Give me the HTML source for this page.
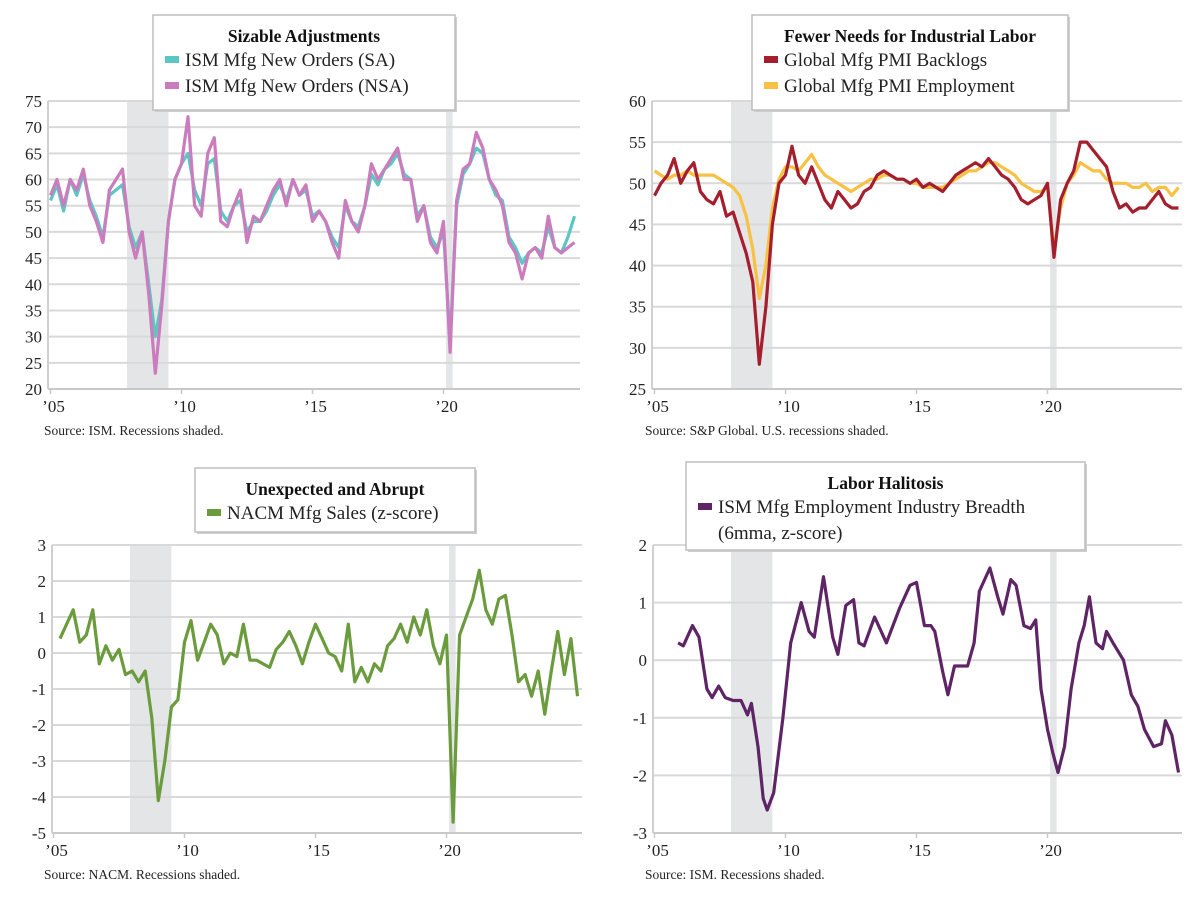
<!DOCTYPE html>
<html><head><meta charset="utf-8">
<style>
body{margin:0;background:#fff;}
svg{display:block;font-family:"Liberation Serif",serif;}
</style></head>
<body>
<svg id="chart" width="1200" height="907" viewBox="0 0 1200 907"></svg>
<script>
// ---------- DATA ----------
const yearsStart1 = 2005.0;
const smaSA = [56,59,54,60,57,61,56,53,49,57,58,59,51,47,50,40,30,37,52,60,63,65,58,55,63,64,54,52,55,56,50,52,52,54,57,59,56,60,57,58,53,54,52,49,47,55,52,51,55,61,59,62,63,65,61,60,53,55,49,47,50,29,55,61,63,66,65,60,57,56,49,47,44,46,47,46,51,47,46,49,53];
const smaNSA = [57,60,55,60,58,62,55,52,48,58,60,62,50,45,50,38,23,36,52,60,63,72,55,53,65,68,52,51,55,58,48,53,52,55,58,60,55,60,57,59,52,54,52,48,45,56,52,50,55,63,60,62,64,66,60,60,52,55,48,46,52,27,56,62,63,69,66,60,58,55,48,46,41,46,47,45,53,47,46,47,48];
const pmiBacklogs = [48.5,50,51,53,50,51.5,52.5,49,48,47.5,49,46,46.5,44,41.5,38,28,35,45,50,51,54.5,51,50,52,50,48,47,49,48,47,47.5,49,49.5,51,51.5,51,50.5,50.5,50,50.5,49.5,50,49.5,49,50,51,51.5,52,52.5,52,53,52,51,50.5,49.5,48,47.5,48,48.5,50,41,48,50,51.5,55,55,54,53,52,49,47,47.5,46.5,47,47,48,49,47.5,47,47];
const pmiEmployment = [51.5,51,50.5,51,51,51.5,51,51,51,51,50.5,50,49.5,48.5,46,42,36,40,47,50.5,52,52,51.5,52.5,53.5,52,51,50.5,50,49.5,49,49.5,50,50.5,50.5,51,51,50.5,50.5,50,50,49.5,49.5,49.5,49.5,50,50.5,51,51.5,51.5,52,52.5,52.5,52,51.5,51,50,49.5,49,49,49.5,42,47,50,51,52.5,52,51.5,51.5,50.5,50,50,50,49.5,49.5,50,49,49.5,49.5,48.5,49.5];
const yearsStart3 = 2005.25;
const nacmSales = [0.4,0.8,1.2,0.3,0.5,1.2,-0.3,0.2,-0.2,0.1,-0.6,-0.5,-0.8,-0.5,-1.8,-4.1,-3.0,-1.5,-1.3,0.3,0.9,-0.2,0.3,0.8,0.5,-0.3,0.0,-0.1,0.8,-0.2,-0.2,-0.3,-0.4,0.1,0.3,0.6,0.2,-0.3,0.3,0.8,0.4,0.0,-0.1,-0.5,0.8,-0.8,-0.4,-0.8,-0.3,-0.5,0.2,0.4,0.8,0.3,1.0,0.5,1.2,0.2,-0.3,0.5,-4.7,0.5,1.0,1.5,2.3,1.2,0.8,1.5,1.6,0.5,-0.8,-0.6,-1.2,-0.5,-1.7,-0.5,0.6,-0.6,0.4,-1.2];
const breadthYears = [2005.9,2006.1,2006.45,2006.7,2007.0,2007.2,2007.45,2007.7,2008.0,2008.3,2008.55,2008.7,2008.95,2009.15,2009.3,2009.55,2009.9,2010.2,2010.6,2010.9,2011.1,2011.45,2011.8,2012.0,2012.3,2012.6,2012.8,2013.0,2013.4,2013.85,2014.35,2014.75,2015.0,2015.3,2015.55,2015.7,2016.0,2016.2,2016.45,2016.95,2017.2,2017.4,2017.8,2018.1,2018.3,2018.6,2018.8,2019.1,2019.35,2019.55,2019.75,2020.0,2020.2,2020.4,2020.65,2020.9,2021.2,2021.4,2021.6,2021.85,2022.1,2022.25,2022.5,2022.9,2023.2,2023.45,2023.7,2024.05,2024.35,2024.5,2024.75,2025.0];
const breadthValues = [0.3,0.25,0.6,0.4,-0.5,-0.65,-0.45,-0.65,-0.7,-0.7,-0.95,-0.75,-1.5,-2.4,-2.6,-2.3,-1.0,0.3,1.0,0.5,0.4,1.45,0.4,0.1,0.95,1.05,0.3,0.25,0.75,0.3,0.9,1.3,1.35,0.6,0.6,0.5,-0.2,-0.6,-0.1,-0.1,0.3,1.2,1.6,1.1,0.8,1.4,1.3,0.6,0.55,0.7,-0.5,-1.2,-1.6,-1.95,-1.5,-0.5,0.3,0.6,1.1,0.3,0.2,0.5,0.3,0.0,-0.6,-0.8,-1.2,-1.5,-1.45,-1.05,-1.3,-1.95];
const recessionStart = [2007.92, 2020.1];
const recessionEnd = [2009.5, 2020.35];
const xTickYears = [2005, 2010, 2015, 2020];
const xTickLabels = ["\u201905","\u201910","\u201915","\u201920"];
const yTicks1 = [20,25,30,35,40,45,50,55,60,65,70,75];
const yTicks2 = [25,30,35,40,45,50,55,60];
const yTicks3 = [-5,-4,-3,-2,-1,0,1,2,3];
const yTicks4 = [-3,-2,-1,0,1,2];

// ---------- DRAW ----------
const NS = "http://www.w3.org/2000/svg";
const svg = document.getElementById('chart');
function mk(tag, attrs, parent){const e=document.createElementNS(NS,tag);for(const k in attrs)e.setAttribute(k,attrs[k]);(parent||svg).appendChild(e);return e;}

function panel(p){
  const g = mk('g',{});
  
  
  const xs = y => p.x05 + (y-2005)*p.pxYr;
  const ys = v => p.yTop + (p.yMax - v)/(p.yMax - p.yMin)*(p.yBot - p.yTop);
  recessionStart.forEach((s,i)=>{
    const r = mk('rect',{x:xs(s),y:p.yTop,width:xs(recessionEnd[i])-xs(s),height:p.yBot-p.yTop,fill:'#E4E5E7'},g);
    
    
  });
  p.yTicks.forEach(v=>{
    const l = mk('line',{x1:p.left,x2:p.right,y1:ys(v),y2:ys(v),stroke:v===p.yMin?'#C8C8C8':'#D9D9D9','stroke-width':2},g);
    
    
    const t = mk('text',{x:p.left-6,y:ys(v)+6,'text-anchor':'end','font-size':17,fill:'#222'},g);
    t.textContent = v;
    
    
  });
  const ax = mk('line',{x1:p.left,x2:p.left,y1:p.yTop,y2:p.yBot,stroke:'#D0D0D0','stroke-width':2},g);
  
  
  xTickYears.forEach((yr,i)=>{
    const tk = mk('line',{x1:xs(yr),x2:xs(yr),y1:p.yBot,y2:p.yBot+5,stroke:'#C8C8C8','stroke-width':1.5},g);
    
    
    const t = mk('text',{x:xs(yr)+3,y:p.yBot+23,'text-anchor':'middle','font-size':17,fill:'#222'},g);
    t.textContent = xTickLabels[i];
    
    
  });
  p.series.forEach(s=>{
    const pts = s.values.map((v,i)=>{const yr = s.years ? s.years[i] : s.start + i*s.step; return xs(yr).toFixed(1)+','+ys(v).toFixed(1);});
    const pl = mk('polyline',{points:pts.join(' '),fill:'none',stroke:s.color,'stroke-width':3.2,'stroke-linejoin':'round'},g);
    
    
  });
  const src = mk('text',{x:p.srcX,y:p.yBot+46,'font-size':13.5,fill:'#222'},g);
  src.textContent = p.source;
  
  
  const L = p.legend;
  const lg = mk('g',{},g);
  
  
  mk('rect',{x:L.x+2,y:L.y+2,width:L.w,height:L.h,fill:'#CFCFCF'},lg);
  mk('rect',{x:L.x,y:L.y,width:L.w,height:L.h,fill:'#fff',stroke:'#BDBDBD','stroke-width':1.5},lg);
  const tt = mk('text',{x:L.x+L.w/2,y:L.y+27,'text-anchor':'middle','font-size':17.5,'font-weight':'bold',fill:'#111'},lg);
  tt.textContent = L.title;
  
  
  L.entries.forEach((e,i)=>{
    const ey = L.y + 51 + i*26;
    const sw = mk('rect',{x:L.x+12,y:ey-10,width:14,height:7,fill:e.color},lg);
    
    
    const et = mk('text',{x:L.x+32,y:ey,'font-size':19,fill:'#222'},lg);
    et.textContent = e.label;
    
    
  });
}

panel({name:'panel-ism-new-orders',x05:50.5,pxYr:26.2,left:48,right:580,yTop:101,yBot:389,yMin:20,yMax:75,yTicks:yTicks1,srcX:44,
  source:'Source: ISM. Recessions shaded.',
  series:[{name:'line-sa',values:smaSA,start:yearsStart1,step:0.25,color:'#5CC6C2'},
          {name:'line-nsa',values:smaNSA,start:yearsStart1,step:0.25,color:'#CB7CBE'}],
  legend:{x:153,y:15,w:302,h:95,title:'Sizable Adjustments',entries:[{label:'ISM Mfg New Orders (SA)',color:'#5CC6C2'},{label:'ISM Mfg New Orders (NSA)',color:'#CB7CBE'}]}});

panel({name:'panel-global-pmi',x05:654.5,pxYr:26.2,left:652,right:1182,yTop:101,yBot:389,yMin:25,yMax:60,yTicks:yTicks2,srcX:645,
  source:'Source: S&P Global. U.S. recessions shaded.',
  series:[{name:'line-employment',values:pmiEmployment,start:yearsStart1,step:0.25,color:'#F9C143'},
          {name:'line-backlogs',values:pmiBacklogs,start:yearsStart1,step:0.25,color:'#A51E2E'}],
  legend:{x:752,y:15,w:316,h:95,title:'Fewer Needs for Industrial Labor',entries:[{label:'Global Mfg PMI Backlogs',color:'#A51E2E'},{label:'Global Mfg PMI Employment',color:'#F9C143'}]}});

panel({name:'panel-nacm-sales',x05:53.5,pxYr:26.2,left:52,right:582,yTop:545,yBot:833,yMin:-5,yMax:3,yTicks:yTicks3,srcX:44,
  source:'Source: NACM. Recessions shaded.',
  series:[{name:'line-nacm-sales',values:nacmSales,start:yearsStart3,step:0.25,color:'#6A9B3C'}],
  legend:{x:195,y:468,w:280,h:64,title:'Unexpected and Abrupt',entries:[{label:'NACM Mfg Sales (z-score)',color:'#6A9B3C'}]}});

panel({name:'panel-ism-employment-breadth',x05:654.5,pxYr:26.2,left:653,right:1182,yTop:545,yBot:833,yMin:-3,yMax:2,yTicks:yTicks4,srcX:645,
  source:'Source: ISM. Recessions shaded.',
  series:[{name:'line-employment-breadth',values:breadthValues,years:breadthYears,color:'#5E2466'}],
  legend:{x:686,y:462,w:399,h:88,title:'Labor Halitosis',entries:[{label:'ISM Mfg Employment Industry Breadth',color:'#5E2466'}]}});

const extra = mk('text',{x:718,y:539,'font-size':19,fill:'#222'});
extra.textContent = '(6mma, z-score)';


</script>
</body></html>
